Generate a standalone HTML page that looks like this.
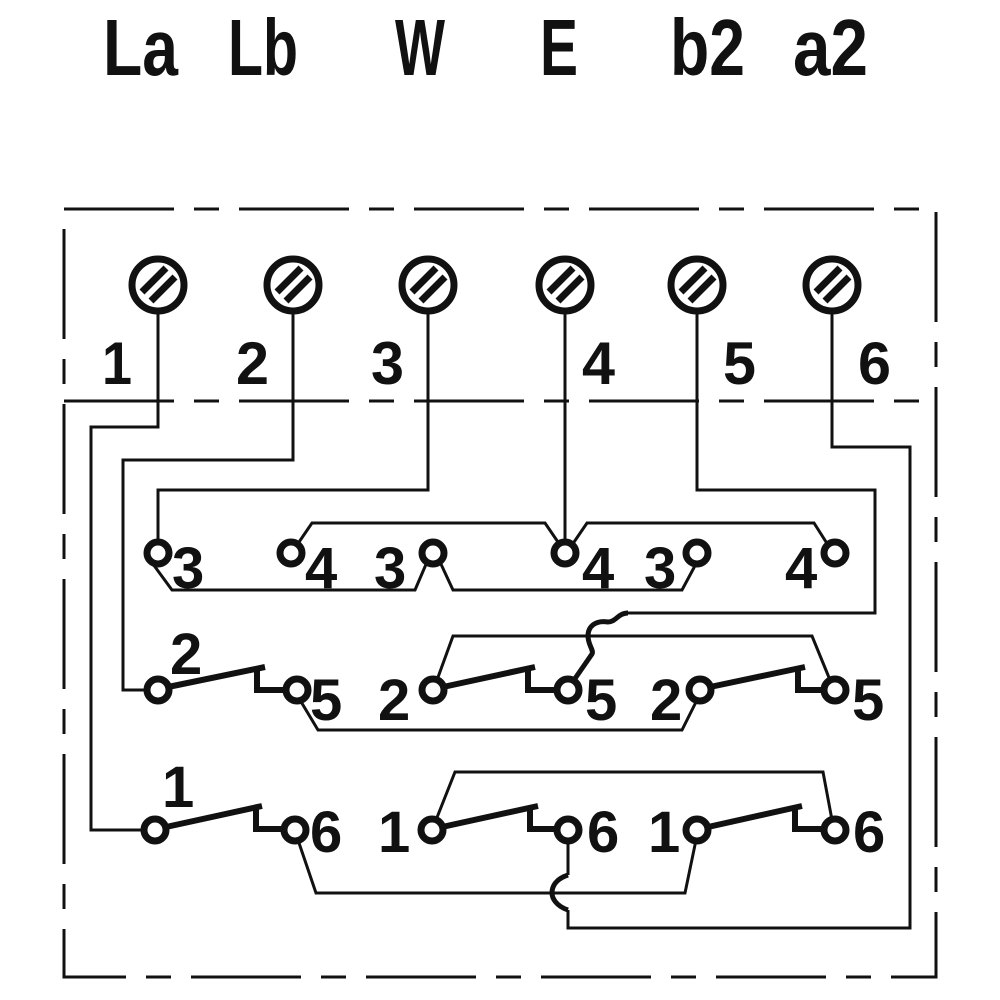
<!DOCTYPE html>
<html><head><meta charset="utf-8"><style>html,body{margin:0;padding:0;background:#fff}svg{display:block}</style></head>
<body>
<svg width="1000" height="1000" viewBox="0 0 1000 1000" xmlns="http://www.w3.org/2000/svg">
<defs>
<g id="term">
<circle r="26" fill="#fff" stroke="#111" stroke-width="7"/>
<line x1="-16" y1="7" x2="8" y2="-17" stroke="#111" stroke-width="7"/>
<line x1="-7" y1="16" x2="17" y2="-8" stroke="#111" stroke-width="7"/>
</g>
</defs>
<g font-family="'Liberation Sans', sans-serif" fill="#111" font-weight="bold">
<g font-size="80">
<text x="103" y="75" textLength="75" lengthAdjust="spacingAndGlyphs">La</text>
<text x="228" y="75" textLength="70" lengthAdjust="spacingAndGlyphs">Lb</text>
<text x="395" y="75" textLength="50" lengthAdjust="spacingAndGlyphs">W</text>
<text x="540" y="75" textLength="38" lengthAdjust="spacingAndGlyphs">E</text>
<text x="670" y="75" textLength="75" lengthAdjust="spacingAndGlyphs">b2</text>
<text x="793" y="75" textLength="75" lengthAdjust="spacingAndGlyphs">a2</text>
</g>
<g font-size="60">
<text x="102" y="384" textLength="30" lengthAdjust="spacingAndGlyphs">1</text>
<text x="236" y="384" textLength="33" lengthAdjust="spacingAndGlyphs">2</text>
<text x="371" y="384" textLength="33" lengthAdjust="spacingAndGlyphs">3</text>
<text x="582" y="384" textLength="33" lengthAdjust="spacingAndGlyphs">4</text>
<text x="723" y="384" textLength="33" lengthAdjust="spacingAndGlyphs">5</text>
<text x="858" y="384" textLength="33" lengthAdjust="spacingAndGlyphs">6</text>
</g>
<g font-size="58">
<text x="172" y="588">3</text><text x="305" y="588">4</text><text x="374" y="588">3</text>
<text x="582" y="588">4</text><text x="644" y="588">3</text><text x="785" y="588">4</text>
<text x="170" y="674">2</text>
<text x="310" y="720">5</text><text x="378" y="720">2</text>
<text x="585" y="720">5</text><text x="650" y="720">2</text>
<text x="852" y="720">5</text>
<text x="162" y="807">1</text>
<text x="310" y="852">6</text><text x="378" y="852">1</text>
<text x="587" y="852">6</text><text x="648" y="852">1</text>
<text x="853" y="852">6</text>
</g>
</g>
<g fill="none" stroke="#111">
<rect x="64" y="209" width="872" height="768" stroke-width="3" stroke-dasharray="110 20 25 20"/>
<line x1="64" y1="401" x2="936" y2="401" stroke-width="3" stroke-dasharray="110 20 25 20"/>
<g stroke-width="3">
<polyline points="158,285 158,427 91,427 91,830 147,830"/>
<polyline points="293,285 293,460 123,460 123,690 147,690"/>
<polyline points="428,285 428,490 158,490 158,542"/>
<polyline points="565,285 565,542"/>
<path d="M697,285 V490 H875 V613 H628"/>
<path d="M628,613 C618,613 616,622 608,622 C596,620 588,626 588,636 C588,645 594,650 592,654 L574,680" stroke-width="5"/>
<path d="M832,285 V447 H910 V928 H568 V910"/>
<path d="M568,910 C556,906 552,898 552,893 C552,886 556,879 568,875" stroke-width="5"/>
<path d="M568,875 V841"/>
<polyline points="150,560 172,590 415,590 427,562"/>
<polyline points="440,562 453,590 682,590 697,562"/>
<polyline points="297,545 312,523 545,523 560,545"/>
<polyline points="572,545 587,523 814,523 828,545"/>
<polyline points="437,680 453,636 812,636 830,680"/>
<polyline points="300,700 318,730 682,730 697,700"/>
<polyline points="436,820 455,772 823,772 832,820"/>
<polyline points="298,840 316,893 685,893 696,840"/>
</g>
<g stroke-width="6">
<polyline points="168,687 265,667"/><polyline points="257,667 257,690 286,690"/>
<polyline points="443,687 535,667"/><polyline points="528,667 528,690 557,690"/>
<polyline points="710,687 805,667"/><polyline points="798,667 798,690 824,690"/>
<polyline points="166,827 262,806"/><polyline points="256,806 256,829 284,829"/>
<polyline points="442,827 538,806"/><polyline points="530,806 530,829 557,829"/>
<polyline points="708,827 802,806"/><polyline points="795,806 795,829 824,829"/>
</g>
<g stroke-width="7" fill="#fff">
<circle cx="158" cy="553" r="11"/><circle cx="291" cy="553" r="11"/><circle cx="433" cy="553" r="11"/>
<circle cx="565" cy="553" r="11"/><circle cx="697" cy="553" r="11"/><circle cx="835" cy="553" r="11"/>
<circle cx="158" cy="690" r="11"/><circle cx="297" cy="690" r="11"/><circle cx="433" cy="690" r="11"/>
<circle cx="568" cy="690" r="11"/><circle cx="700" cy="690" r="11"/><circle cx="835" cy="690" r="11"/>
<circle cx="155" cy="830" r="11"/><circle cx="295" cy="830" r="11"/><circle cx="432" cy="830" r="11"/>
<circle cx="568" cy="830" r="11"/><circle cx="697" cy="830" r="11"/><circle cx="835" cy="830" r="11"/>
</g>
</g>
<use href="#term" x="158" y="285"/><use href="#term" x="293" y="285"/><use href="#term" x="428" y="285"/>
<use href="#term" x="565" y="285"/><use href="#term" x="697" y="285"/><use href="#term" x="832" y="285"/>
</svg>
</body></html>
